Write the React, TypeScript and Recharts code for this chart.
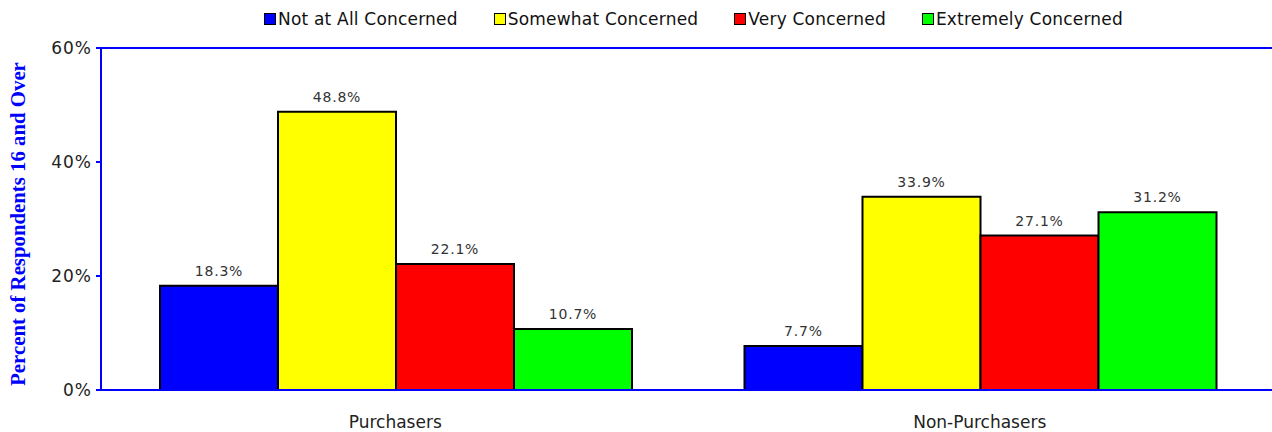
import { BarChart, Bar, XAxis, YAxis, Legend, LabelList, ReferenceLine, Label } from "recharts";

const groups = ["Purchasers", "Non-Purchasers"];
const notAtAll = [18.3, 7.7];
const somewhat = [48.8, 33.9];
const very = [22.1, 27.1];
const extremely = [10.7, 31.2];
const yTicks = [0, 20, 40, 60];

const series = [
  { key: "notAtAll", name: "Not at All Concerned", color: "#0000ff" },
  { key: "somewhat", name: "Somewhat Concerned", color: "#ffff00" },
  { key: "very", name: "Very Concerned", color: "#ff0000" },
  { key: "extremely", name: "Extremely Concerned", color: "#00ff00" },
];

const data = groups.map((g, i) => ({
  group: g,
  notAtAll: notAtAll[i],
  somewhat: somewhat[i],
  very: very[i],
  extremely: extremely[i],
}));

const sans = "'DejaVu Sans', Verdana, sans-serif";

function LegendBox() {
  return (
    <div style={{ display: "flex", justifyContent: "center", paddingLeft: 151, fontFamily: sans, fontSize: 17, letterSpacing: 0.2, color: "#111", lineHeight: "22px" }}>
      {series.map((s) => (
        <div key={s.key} style={{ display: "flex", alignItems: "center", marginRight: 36 }}>
          <span style={{ display: "inline-block", width: 10, height: 10, background: s.color, border: "1.5px solid #000", marginRight: 2 }} />
          <span>{s.name}</span>
        </div>
      ))}
    </div>
  );
}

function AxisTitle(props: any) {
  const { viewBox } = props;
  const x = viewBox.x + 17;
  const y = viewBox.y + viewBox.height / 2 + 5;
  return (
    <text x={x} y={y} transform={`rotate(-90, ${x}, ${y})`} textAnchor="middle" dominantBaseline="central"
      fill="#0000ff" fontFamily="'Liberation Serif', 'Times New Roman', serif" fontWeight="bold" fontSize={20.8}>
      Percent of Respondents 16 and Over
    </text>
  );
}

export default function App() {
  return (
    <div style={{ position: "absolute", left: 0, top: 0, width: 1272, height: 432, background: "#fff" }}>
      <BarChart width={1272} height={432} data={data} margin={{ top: 48, right: 0, bottom: 0, left: 0 }}
        barCategoryGap={57} barGap={0}>
        <Legend verticalAlign="middle" content={<LegendBox />} wrapperStyle={{ top: 8, left: 0, width: 1272 }} />
        <XAxis dataKey="group" height={42} padding={{ left: 2, right: 0 }} axisLine={{ stroke: "#0000ff", strokeWidth: 2 }} tickLine={false}
          tickMargin={20} tick={{ fontFamily: sans, fontSize: 17, fill: "#222" }} />
        <YAxis width={101} domain={[0, 60]} ticks={yTicks} tickFormatter={(v) => `${v}%`}
          axisLine={{ stroke: "#0000ff", strokeWidth: 2 }} tickLine={{ stroke: "#0000ff", strokeWidth: 2 }}
          tickSize={5} tickMargin={4} tick={{ fontFamily: sans, fontSize: 17, letterSpacing: 1, fill: "#222" }}>
          <Label content={<AxisTitle />} />
        </YAxis>
        <ReferenceLine y={60} stroke="#0000ff" strokeWidth={2} />
        {series.map((s) => (
          <Bar key={s.key} dataKey={s.key} name={s.name} fill={s.color} stroke="#000" strokeWidth={2} isAnimationActive={false}>
            <LabelList dataKey={s.key} position="top" offset={10} formatter={(v: any) => `${Number(v).toFixed(1)}%`}
              style={{ fontFamily: sans, fontSize: 14, letterSpacing: 0.8, fill: "#333" }} />
          </Bar>
        ))}
      </BarChart>
    </div>
  );
}
